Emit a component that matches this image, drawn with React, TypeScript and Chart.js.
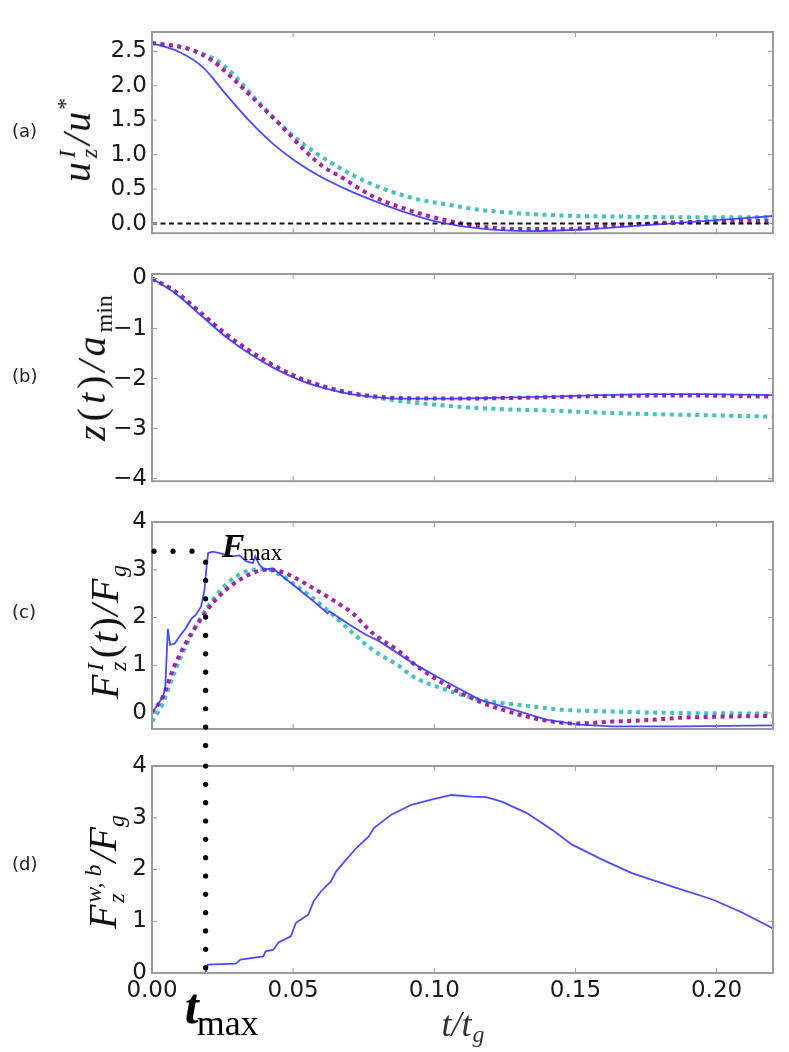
import React, { useEffect, useRef } from 'react';
import Chart from 'chart.js/auto';

const X_TICKS = [0, 0.05, 0.1, 0.15, 0.2];
const T_MAX = 0.019;
const F_MAX = 3.39;

// (a) interface velocity u_z^I / u*
const A_BLUE_T = [0, 0.0097, 0.018, 0.0263, 0.0345, 0.0428, 0.051, 0.0593, 0.0687, 0.078, 0.09, 0.1018, 0.116, 0.1336, 0.1513, 0.169, 0.1867, 0.204, 0.22];
const A_BLUE = [2.62, 2.49, 2.27, 1.87, 1.49, 1.16, 0.9, 0.69, 0.5, 0.34, 0.16, 0.02, -0.07, -0.11, -0.09, -0.04, 0.01, 0.06, 0.11];
const A_MAG_T = [0, 0.0133, 0.0215, 0.0298, 0.038, 0.0463, 0.0534, 0.0605, 0.0664, 0.078, 0.09, 0.1018, 0.116, 0.13, 0.145, 0.163, 0.181, 0.198, 0.22];
const A_MAG = [2.62, 2.53, 2.36, 2.06, 1.73, 1.4, 1.09, 0.83, 0.69, 0.4, 0.21, 0.07, -0.04, -0.08, -0.08, -0.03, 0.01, 0.03, 0.04];
const A_CYAN_T = [0, 0.0133, 0.025, 0.0369, 0.046, 0.0534, 0.0664, 0.078, 0.0923, 0.104, 0.116, 0.1336, 0.151, 0.169, 0.187, 0.204, 0.22];
const A_CYAN = [2.62, 2.53, 2.31, 1.8, 1.42, 1.16, 0.81, 0.57, 0.37, 0.28, 0.2, 0.14, 0.11, 0.1, 0.09, 0.09, 0.09];
const A_ZERO_T = [0, 0.22];
const A_ZERO = [0, 0];
const A_TICKS = [0, 0.5, 1, 1.5, 2, 2.5];

// (b) position z(t) / a_min
const B_T = [0, 0.0083, 0.0172, 0.026, 0.035, 0.0439, 0.0528, 0.0617, 0.0706, 0.0795, 0.0884, 0.106, 0.124, 0.1415, 0.159, 0.177, 0.195, 0.22];
const B_BLUE = [0, -0.3, -0.73, -1.16, -1.52, -1.81, -2.04, -2.2, -2.31, -2.37, -2.4, -2.4, -2.38, -2.36, -2.33, -2.31, -2.31, -2.33];
const B_MAG = [0, -0.26, -0.68, -1.1, -1.46, -1.76, -2.0, -2.17, -2.29, -2.36, -2.39, -2.4, -2.39, -2.37, -2.35, -2.34, -2.34, -2.36];
const B_CYAN = [0, -0.27, -0.69, -1.11, -1.47, -1.77, -2.01, -2.18, -2.3, -2.38, -2.45, -2.55, -2.61, -2.64, -2.68, -2.71, -2.73, -2.76];
const B_TICKS = [-4, -3, -2, -1, 0];

// (c) force F_z^I(t) / F_g
const C_BLUE_T = [0, 0.002, 0.0039, 0.0047, 0.0056, 0.0064, 0.008, 0.0097, 0.012, 0.0139, 0.0156, 0.0174, 0.0186, 0.0194, 0.0199, 0.0215, 0.0239, 0.0286, 0.031, 0.0333, 0.0357, 0.0366, 0.038, 0.0398, 0.0428, 0.0463, 0.0522, 0.058, 0.0622, 0.0628, 0.07, 0.0758, 0.0806, 0.0923, 0.104, 0.116, 0.128, 0.1396, 0.151, 0.163, 0.187, 0.22];
const C_BLUE = [0, 0.17, 0.35, 0.52, 1.76, 1.43, 1.45, 1.6, 1.78, 1.97, 2.06, 2.23, 2.58, 3.11, 3.35, 3.38, 3.35, 3.28, 3.3, 3.18, 3.14, 3.28, 3.11, 3.0, 3.03, 2.86, 2.58, 2.3, 2.09, 2.13, 1.85, 1.64, 1.5, 1.05, 0.66, 0.28, 0.07, -0.14, -0.245, -0.28, -0.28, -0.26];
const C_MAG_T = [0, 0.0039, 0.0074, 0.012, 0.0168, 0.0215, 0.0262, 0.031, 0.0357, 0.0404, 0.0451, 0.0498, 0.0569, 0.064, 0.071, 0.078, 0.0876, 0.0923, 0.104, 0.116, 0.128, 0.1396, 0.151, 0.163, 0.175, 0.187, 0.199, 0.22];
const C_MAG = [0, 0.35, 0.91, 1.47, 1.92, 2.3, 2.58, 2.79, 2.93, 3.0, 2.97, 2.86, 2.62, 2.37, 2.09, 1.68, 1.29, 1.05, 0.59, 0.24, 0.0, -0.16, -0.22, -0.18, -0.15, -0.1, -0.08, -0.06];
const C_CYAN_T = [0, 0.0039, 0.0074, 0.012, 0.0168, 0.0215, 0.0262, 0.031, 0.0357, 0.0404, 0.0451, 0.0498, 0.0569, 0.064, 0.071, 0.078, 0.0876, 0.0923, 0.104, 0.116, 0.13, 0.145, 0.163, 0.187, 0.22];
const C_CYAN = [-0.18, 0.21, 0.77, 1.4, 1.95, 2.37, 2.69, 2.9, 3.0, 3.01, 2.9, 2.72, 2.41, 2.06, 1.68, 1.33, 0.98, 0.77, 0.49, 0.28, 0.17, 0.07, 0.03, 0.0, -0.01];
const C_TICKS = [0, 1, 2, 3, 4];

// (d) force F_z^{w,b} / F_g
const D_BLUE_T = [0, 0.0189, 0.0198, 0.0296, 0.0314, 0.0394, 0.0403, 0.043, 0.0448, 0.0492, 0.051, 0.0554, 0.0572, 0.0599, 0.0634, 0.0652, 0.0688, 0.0723, 0.0768, 0.0786, 0.0848, 0.0919, 0.099, 0.1061, 0.1132, 0.1185, 0.1239, 0.1328, 0.1417, 0.1488, 0.1595, 0.17, 0.186, 0.1986, 0.2094, 0.22];
const D_BLUE = [0, 0, 0.16, 0.18, 0.26, 0.32, 0.42, 0.45, 0.59, 0.71, 0.97, 1.13, 1.38, 1.58, 1.77, 1.96, 2.19, 2.41, 2.64, 2.8, 3.06, 3.25, 3.35, 3.44, 3.41, 3.4, 3.31, 3.09, 2.77, 2.48, 2.19, 1.93, 1.64, 1.42, 1.16, 0.86];
const D_TICKS = [0, 1, 2, 3, 4];

const SERIF = '"Liberation Serif", "DejaVu Serif", serif';
const SANS = '"DejaVu Sans", sans-serif';

const STYLES: Record<string, any> = {
  blue: { borderColor: 'rgba(55,55,255,0.9)', borderWidth: 1.8, borderDash: [] },
  magenta: { borderColor: '#a623a6', borderWidth: 4, borderDash: [4, 4.5] },
  cyan: { borderColor: '#45c1c1', borderWidth: 4, borderDash: [4, 4.5] },
  zero: { borderColor: '#111', borderWidth: 2, borderDash: [5, 3.5] },
};

function series(kind: string, t: number[], y: number[], smooth = true) {
  return {
    data: t.map((x, i) => ({ x, y: y[i] })),
    ...STYLES[kind],
    pointRadius: 0,
    fill: false,
    tension: 0,
    cubicInterpolationMode: smooth ? 'monotone' : 'default',
  };
}

function dot(ctx: CanvasRenderingContext2D, x: number, y: number) {
  ctx.beginPath();
  ctx.arc(x, y, 2.6, 0, Math.PI * 2);
  ctx.fill();
}

const framePlugin = (yTicks: number[]) => ({
  id: 'frame',
  afterDatasetsDraw(chart: any) {
    const { ctx, chartArea: a, scales } = chart;
    ctx.save();
    ctx.strokeStyle = '#9b9b9b';
    ctx.lineWidth = 1;
    ctx.beginPath();
    X_TICKS.forEach((v) => {
      const px = scales.x.getPixelForValue(v);
      if (px < a.left + 2) return;
      ctx.moveTo(px, a.top);
      ctx.lineTo(px, a.top + 5);
      ctx.moveTo(px, a.bottom);
      ctx.lineTo(px, a.bottom - 5);
    });
    yTicks.forEach((v) => {
      const py = scales.y.getPixelForValue(v);
      if (py < a.top + 2 || py > a.bottom - 2) return;
      ctx.moveTo(a.left, py);
      ctx.lineTo(a.left + 5, py);
      ctx.moveTo(a.right, py);
      ctx.lineTo(a.right - 5, py);
    });
    ctx.stroke();
    ctx.lineWidth = 2;
    ctx.strokeRect(a.left, a.top, a.right - a.left, a.bottom - a.top);
    ctx.restore();
  },
});

const fmaxPlugin = {
  id: 'fmax',
  afterDatasetsDraw(chart: any) {
    const { ctx, chartArea: a, scales } = chart;
    const x = scales.x.getPixelForValue(T_MAX);
    const y = scales.y.getPixelForValue(F_MAX);
    ctx.save();
    ctx.fillStyle = '#000';
    for (let px = a.left + 2; px < x - 6; px += 19) dot(ctx, px, y);
    for (let py = y + 11; py < chart.height - 3; py += 18.33) dot(ctx, x, py);
    ctx.textBaseline = 'alphabetic';
    ctx.font = `italic bold 34px ${SERIF}`;
    ctx.fillText('F', x + 16, y + 6);
    ctx.font = `23px ${SERIF}`;
    ctx.fillText('max', x + 37, y + 9);
    ctx.restore();
  },
};

const tmaxPlugin = {
  id: 'tmax',
  afterDatasetsDraw(chart: any) {
    const { ctx, chartArea: a, scales } = chart;
    const x = scales.x.getPixelForValue(T_MAX);
    const y0 = scales.y.getPixelForValue(0);
    ctx.save();
    ctx.fillStyle = '#000';
    for (let py = a.top; py <= y0 + 1; py += 18.33) dot(ctx, x, py);
    ctx.textBaseline = 'alphabetic';
    ctx.font = `italic bold 50px ${SERIF}`;
    ctx.fillText('t', x - 21, a.bottom + 50);
    ctx.font = `36px ${SERIF}`;
    ctx.fillText('max', x - 9, a.bottom + 62);
    // x axis title t/t_g
    ctx.fillStyle = '#333';
    ctx.font = `italic 36px ${SERIF}`;
    const w1 = ctx.measureText('t/t').width;
    ctx.font = `italic 24px ${SERIF}`;
    const w2 = ctx.measureText('g').width;
    const sx = (a.left + a.right) / 2 - (w1 + w2) / 2;
    ctx.font = `italic 36px ${SERIF}`;
    ctx.fillText('t/t', sx, a.bottom + 63);
    ctx.font = `italic 24px ${SERIF}`;
    ctx.fillText('g', sx + w1 + 1, a.bottom + 69);
    ctx.restore();
  },
};

type PanelProps = {
  top: number;
  height: number;
  padTop: number;
  padBottom: number;
  yMin: number;
  yMax: number;
  yTicks: number[];
  yFmt: (v: number) => string;
  datasets: any[];
  showX?: boolean;
  extra?: any;
};

function Panel(p: PanelProps) {
  const canvasRef = useRef<HTMLCanvasElement>(null);

  useEffect(() => {
    const tickFont = { family: SANS, size: 23 };
    const chart = new Chart(canvasRef.current!, {
      type: 'line',
      data: { datasets: p.datasets },
      options: {
        animation: false,
        responsive: false,
        layout: { padding: { left: 0, right: 16, top: p.padTop, bottom: p.padBottom } },
        plugins: { legend: { display: false }, tooltip: { enabled: false } },
        scales: {
          x: {
            type: 'linear',
            min: 0,
            max: 0.22,
            display: !!p.showX,
            grid: { display: false, drawTicks: false },
            border: { display: false },
            ticks: {
              font: tickFont,
              color: '#1a1a1a',
              padding: 4,
              autoSkip: false,
              maxRotation: 0,
              callback: (v: any) => Number(v).toFixed(2),
            },
            afterBuildTicks: (s: any) => {
              s.ticks = X_TICKS.map((v) => ({ value: v }));
            },
            afterFit: (s: any) => {
              s.height = p.showX ? 79 : 0;
            },
          },
          y: {
            type: 'linear',
            min: p.yMin,
            max: p.yMax,
            grid: { display: false, drawTicks: false },
            border: { display: false },
            ticks: {
              font: tickFont,
              color: '#1a1a1a',
              padding: 5,
              autoSkip: false,
              callback: (v: any) => p.yFmt(Number(v)),
            },
            afterBuildTicks: (s: any) => {
              s.ticks = p.yTicks.map((v) => ({ value: v }));
            },
            afterFit: (s: any) => {
              s.width = 152;
            },
          },
        },
      } as any,
      plugins: [framePlugin(p.yTicks), ...(p.extra ? [p.extra] : [])],
    });
    return () => chart.destroy();
  }, []);

  return (
    <canvas
      ref={canvasRef}
      width={789}
      height={p.height}
      style={{ position: 'absolute', left: 0, top: p.top, width: 789, height: p.height }}
    />
  );
}

function Scripts({ sup, sub }: { sup: string; sub: string }) {
  return (
    <span
      style={{
        display: 'inline-flex',
        flexDirection: 'column',
        fontSize: '0.6em',
        lineHeight: 0.95,
        verticalAlign: '0.63em',
        margin: '0 0.08em',
      }}
    >
      <span>{sup}</span>
      <span>{sub}</span>
    </span>
  );
}

function YTitle({ cx, cy, size = 40, ls = 0, children }: { cx: number; cy: number; size?: number; ls?: number; children: React.ReactNode }) {
  return (
    <div
      style={{
        position: 'absolute',
        left: cx,
        top: cy,
        transform: 'translate(-50%, -50%) rotate(-90deg)',
        whiteSpace: 'nowrap',
        fontFamily: SERIF,
        fontStyle: 'italic',
        fontSize: size,
        letterSpacing: `${ls}em`,
        lineHeight: 1,
        color: '#111',
      }}
    >
      {children}
    </div>
  );
}

function Tag({ cy, text }: { cy: number; text: string }) {
  return (
    <div
      style={{
        position: 'absolute',
        left: 12,
        top: cy,
        transform: 'translateY(-50%)',
        fontFamily: SANS,
        fontSize: 18,
        color: '#222',
        lineHeight: 1,
      }}
    >
      {text}
    </div>
  );
}

const up: React.CSSProperties = { fontStyle: 'normal' };
const subStyle: React.CSSProperties = { fontSize: '0.6em', verticalAlign: '-0.3em', letterSpacing: 0 };

export default function App() {
  return (
    <div style={{ position: 'absolute', left: 0, top: 0, width: 789, height: 1052, background: '#fff', overflow: 'hidden' }}>
      <Panel
        top={0}
        height={252}
        padTop={32}
        padBottom={13}
        yMin={-0.14}
        yMax={2.78}
        yTicks={A_TICKS}
        yFmt={(v) => v.toFixed(1)}
        datasets={[
          series('blue', A_BLUE_T, A_BLUE),
          series('zero', A_ZERO_T, A_ZERO, false),
          series('magenta', A_MAG_T, A_MAG),
          series('cyan', A_CYAN_T, A_CYAN),
        ]}
      />
      <Panel
        top={250}
        height={250}
        padTop={24}
        padBottom={15}
        yMin={-4.05}
        yMax={0.09}
        yTicks={B_TICKS}
        yFmt={(v) => (v < 0 ? '\u2212' + Math.abs(v) : '0')}
        datasets={[
          series('blue', B_T, B_BLUE),
          series('magenta', B_T, B_MAG),
          series('cyan', B_T, B_CYAN),
        ]}
      />
      <Panel
        top={500}
        height={266}
        padTop={22}
        padBottom={37}
        yMin={-0.335}
        yMax={4}
        yTicks={C_TICKS}
        yFmt={(v) => String(v)}
        datasets={[
          series('blue', C_BLUE_T, C_BLUE, false),
          series('magenta', C_MAG_T, C_MAG),
          series('cyan', C_CYAN_T, C_CYAN),
        ]}
        extra={fmaxPlugin}
      />
      <Panel
        top={740}
        height={312}
        padTop={26}
        padBottom={0}
        yMin={0}
        yMax={4}
        yTicks={D_TICKS}
        yFmt={(v) => String(v)}
        datasets={[series('blue', D_BLUE_T, D_BLUE, false)]}
        showX
        extra={tmaxPlugin}
      />

      <Tag cy={131} text="(a)" />
      <Tag cy={376} text="(b)" />
      <Tag cy={612} text="(c)" />
      <Tag cy={864} text="(d)" />

      <YTitle cx={77} cy={139} ls={0.05}>
        u<Scripts sup="I" sub="z" />/u<span style={{ ...up, fontSize: '0.6em', verticalAlign: '0.7em' }}>*</span>
      </YTitle>
      <YTitle cx={94} cy={368} ls={0.1}>
        z<span style={up}>(</span>t<span style={up}>)</span>/a<span style={{ ...up, ...subStyle }}>min</span>
      </YTitle>
      <YTitle cx={107} cy={632} ls={0.04}>
        F<Scripts sup="I" sub="z" />
        <span style={up}>(</span>t<span style={up}>)</span>/F<span style={subStyle}>g</span>
      </YTitle>
      <YTitle cx={105} cy={872}>
        F<Scripts sup="w, b" sub="z" />/F<span style={subStyle}>g</span>
      </YTitle>
    </div>
  );
}
